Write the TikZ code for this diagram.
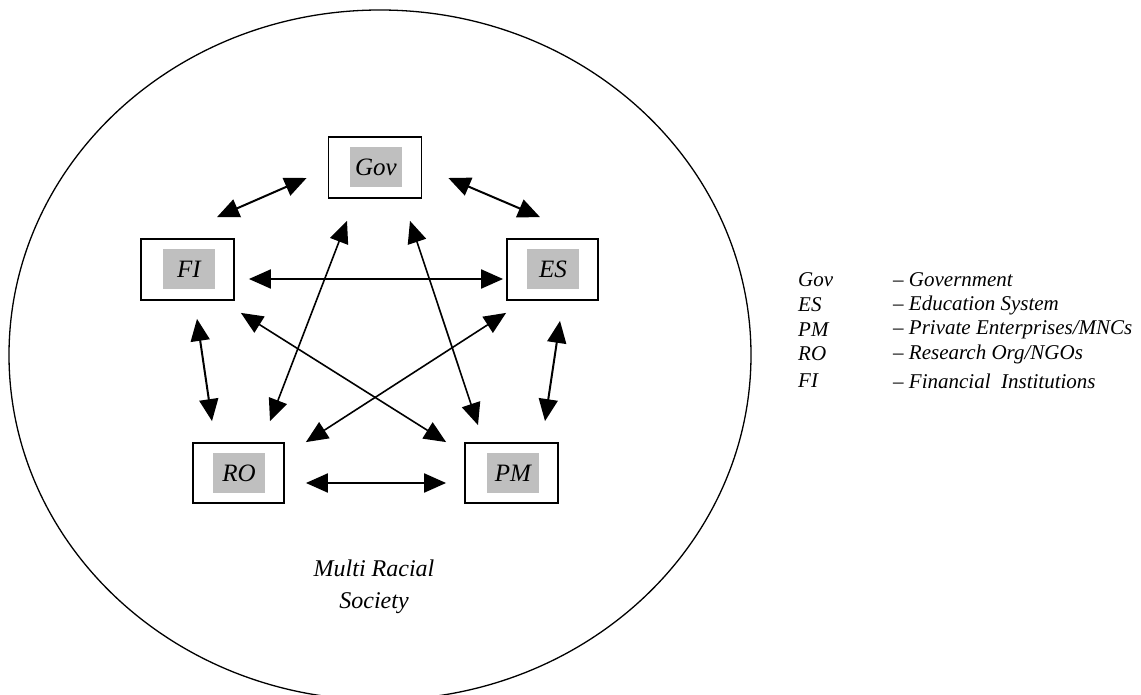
\documentclass[tikz,border=0pt]{standalone}
\usepackage{fontspec}
\setmainfont{Liberation Serif}
\usetikzlibrary{arrows.meta,positioning}

\begin{document}
\begin{tikzpicture}[x=1pt,y=1pt,
    >={Triangle[length=22pt,width=19pt]},
    org/.style={draw,line width=1.8pt,minimum width=93pt,minimum height=61pt,inner sep=0pt},
    tag/.style={fill=black!25,minimum width=52pt,minimum height=40pt,inner sep=0pt,
      font=\fontsize{25}{28}\selectfont\itshape},
    link/.style={<->,line width=2pt},
    cross/.style={<->,line width=1.6pt},
    key/.style={anchor=west,inner sep=0pt,font=\fontsize{21}{24}\selectfont\itshape}]
  \useasboundingbox (0,0) rectangle (1141,-695);
  % Society
  \draw[line width=1.3pt] (380,-355) ellipse [x radius=371,y radius=345];
  \node[align=center,font=\fontsize{24}{32}\selectfont\itshape] (soc) at (374,-587) {Multi Racial\\Society};
  % Nodes
  \node[org] (gov) at (375,-167.5) {};
  \node[tag] (govtag) at (376,-167) {Gov};
  \node[org] (fi) at (187.5,-269.5) {};
  \node[tag] (fitag) at (189,-269) {FI};
  \node[org,minimum width=91pt] (es) at (552.5,-269.5) {};
  \node[tag] (estag) at (553,-269) {ES};
  \node[org,minimum width=91pt,minimum height=60pt] (ro) at (238.5,-473) {};
  \node[tag] (rotag) at (239,-473) {RO};
  \node[org,minimum height=60pt] (pm) at (511.5,-473) {};
  \node[tag] (pmtag) at (513,-473) {PM};
  % Edges
  \draw[link] ([shift={(29.5,21)}]fi.north) -- ([shift={(-21,-10.5)}]gov.west);
  \draw[link] ([shift={(26,-10.5)}]gov.east) -- ([shift={(-12.5,21)}]es.north);
  \draw[link] ([shift={(14,-9.5)}]fi.east) -- ([shift={(-3,-9.5)}]es.west);
  \draw[link] ([shift={(9.5,-18)}]fi.south) -- ([shift={(-26.5,21)}]ro.north);
  \draw[link] ([shift={(7.5,-20)}]es.south) -- ([shift={(33.5,21)}]pm.north);
  \draw[link] ([shift={(21,-10)}]ro.east) -- ([shift={(-18,-10)}]pm.west);
  \draw[cross] ([shift={(-28,-22)}]gov.south) -- ([shift={(31.5,21)}]ro.north);
  \draw[cross] ([shift={(35,-22)}]gov.south) -- ([shift={(-33.5,17)}]pm.north);
  \draw[cross] ([shift={(6,-12)}]fi.south east) -- ([shift={(-18,0)}]pm.north west);
  \draw[cross] ([shift={(0,-12)}]es.south west) -- ([shift={(21,0)}]ro.north east);
  % Key
  \node[key] (kgov) at (798,-280) {Gov};
  \node[key] (kes) at (798,-305) {ES};
  \node[key] (kpm) at (798,-330) {PM};
  \node[key] (kro) at (798,-354) {RO};
  \node[key] (kfi) at (798,-381) {FI};
  \node[key] (dgov) at (893,-280) {-- Government};
  \node[key] (des) at (893,-305) {-- Education System};
  \node[key] (dpm) at (893,-330) {-- Private Enterprises/MNCs};
  \node[key] (dro) at (893,-354) {-- Research Org/NGOs};
  \node[key] (dfi) at (893,-381) {-- Financial\ \ Institutions};
\end{tikzpicture}
\end{document}
